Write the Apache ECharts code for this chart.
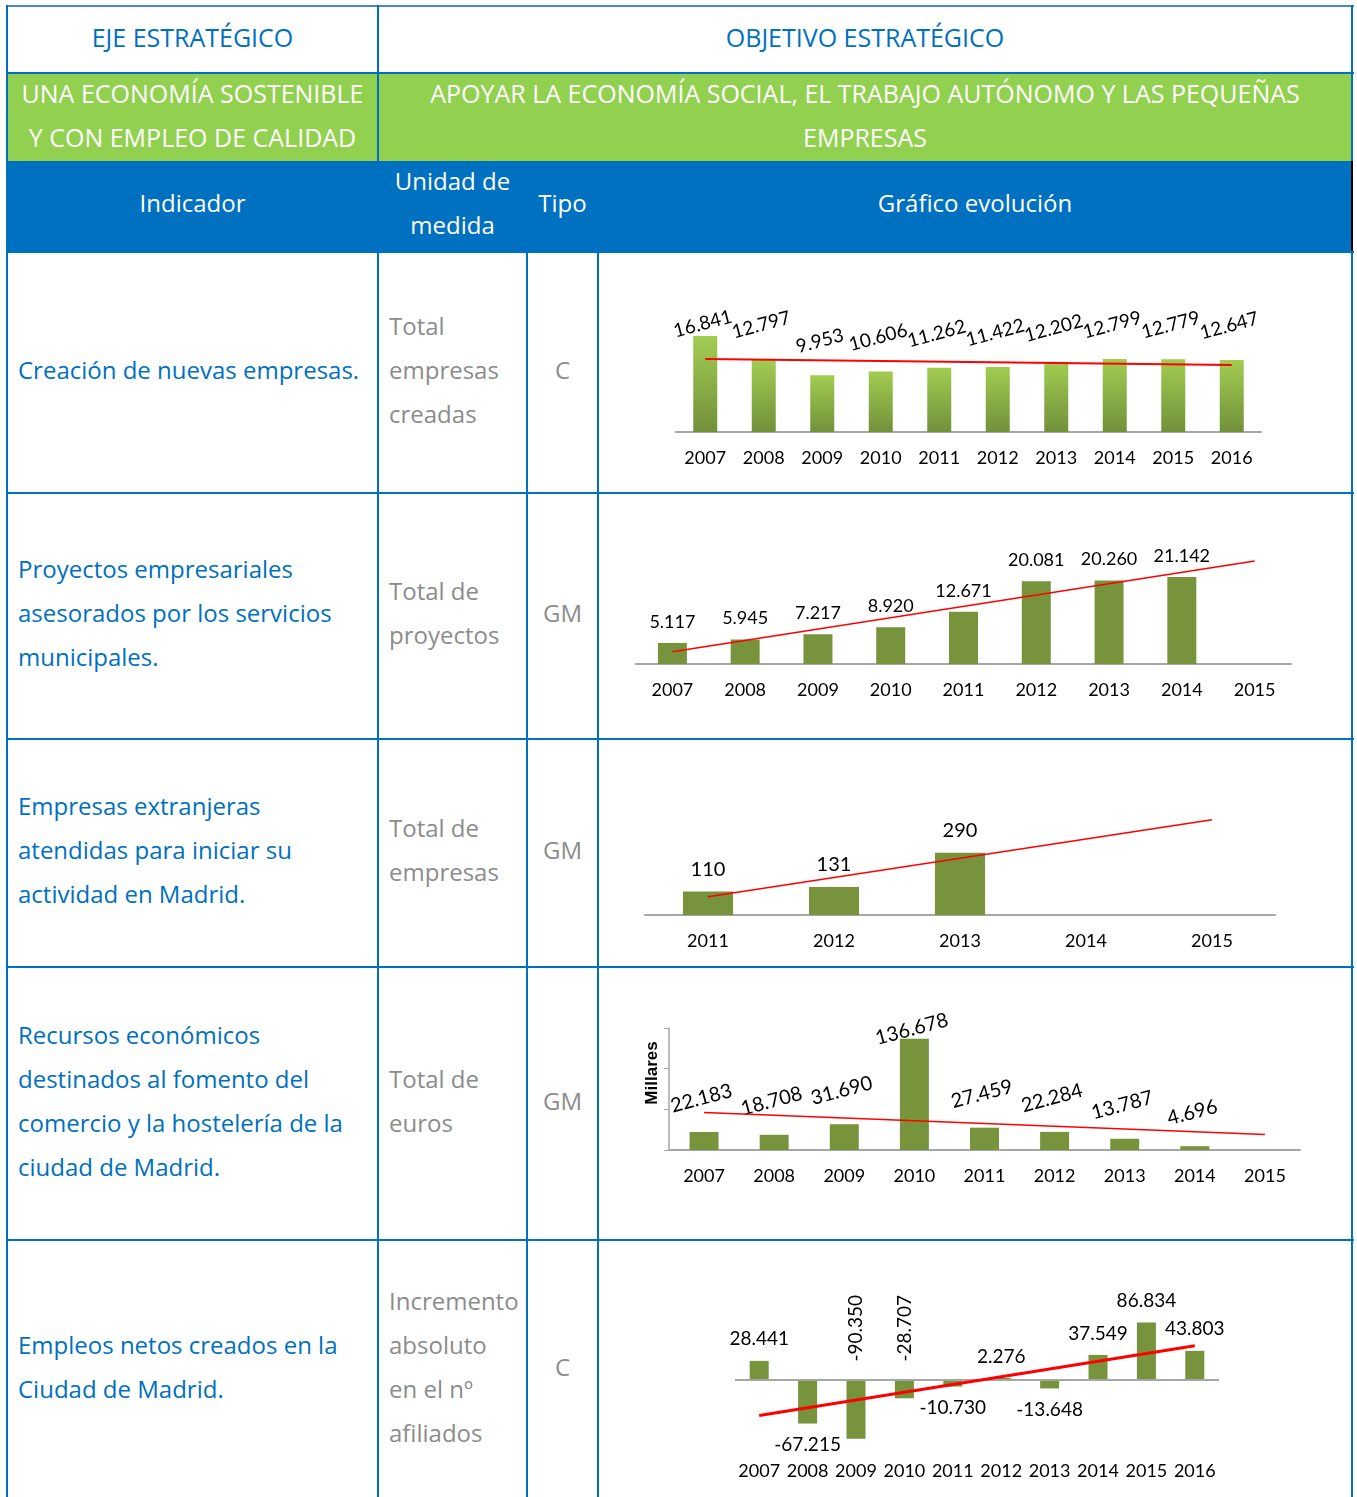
<!DOCTYPE html>
<html>
<head>
<meta charset="utf-8">
<title>Indicadores</title>
<script src="https://cdn.jsdelivr.net/npm/echarts@6/dist/echarts.min.js"></script>
<style>
body{margin:0;background:#fff;font-family:"Open Sans",sans-serif;}
#page{position:relative;width:1357px;height:1497px;overflow:hidden;}
.cell{position:absolute;display:flex;flex-direction:column;justify-content:center;line-height:44px;font-size:24px;box-sizing:border-box;padding-bottom:6px;}
.cap{font-size:25px;}
.c{align-items:center;text-align:center;}
.hl{position:absolute;height:2px;background:#0070c0;}
.vl{position:absolute;width:2px;background:#0070c0;}
.ind{color:#0070c0;padding-left:10px;}
.uni{color:#8c8c8c;padding-left:10px;}
.tipo{color:#8c8c8c;}
.chart{position:absolute;left:600px;width:751px;}
</style>
</head>
<body>
<div id="page">
  <!-- fondos de cabecera -->
  <div style="position:absolute;left:8px;top:74px;width:1344px;height:87px;background:#92d050"></div>
  <div style="position:absolute;left:8px;top:161px;width:1344px;height:91px;background:#0070c0"></div>
  <div style="position:absolute;left:1351px;top:161px;width:2px;height:91px;background:#000"></div>

  <!-- lineas -->
  <div class="hl" style="left:6px;top:5px;width:1348px;background:#4a86c8"></div>
  <div class="hl" style="left:6px;top:72px;width:1348px"></div>
  <div class="hl" style="left:6px;top:251px;width:1348px"></div>
  <div class="hl" style="left:6px;top:492px;width:1348px"></div>
  <div class="hl" style="left:6px;top:738px;width:1348px"></div>
  <div class="hl" style="left:6px;top:966px;width:1348px"></div>
  <div class="hl" style="left:6px;top:1239px;width:1348px"></div>
  <div class="vl" style="left:6px;top:5px;height:1492px"></div>
  <div class="vl" style="left:377px;top:5px;height:156px"></div>
  <div class="vl" style="left:377px;top:251px;height:1246px"></div>
  <div class="vl" style="left:526px;top:251px;height:1246px"></div>
  <div class="vl" style="left:597px;top:251px;height:1246px"></div>
  <div class="vl" style="left:1351px;top:5px;height:156px"></div>
  <div class="vl" style="left:1351px;top:252px;height:1245px"></div>

  <!-- cabecera -->
  <div class="cell c cap" style="left:8px;top:7px;width:369px;height:65px;color:#0070c0">EJE ESTRATÉGICO</div>
  <div class="cell c cap" style="left:379px;top:7px;width:972px;height:65px;color:#0070c0">OBJETIVO ESTRATÉGICO</div>
  <div class="cell c cap" style="left:8px;top:74px;width:369px;height:87px;color:#fff">UNA ECONOMÍA SOSTENIBLE<br>Y CON EMPLEO DE CALIDAD</div>
  <div class="cell c cap" style="left:379px;top:74px;width:972px;height:87px;color:#fff">APOYAR LA ECONOMÍA SOCIAL, EL TRABAJO AUTÓNOMO Y LAS PEQUEÑAS<br>EMPRESAS</div>
  <div class="cell c" style="left:8px;top:161px;width:369px;height:90px;color:#fff">Indicador</div>
  <div class="cell c" style="left:379px;top:161px;width:147px;height:90px;color:#fff">Unidad de<br>medida</div>
  <div class="cell c" style="left:528px;top:161px;width:69px;height:90px;color:#fff">Tipo</div>
  <div class="cell c" style="left:599px;top:161px;width:752px;height:90px;color:#fff">Gráfico evolución</div>

  <!-- fila 1 -->
  <div class="cell ind" style="left:8px;top:253px;width:369px;height:239px">Creación de nuevas empresas.</div>
  <div class="cell uni" style="left:379px;top:253px;width:147px;height:239px">Total<br>empresas<br>creadas</div>
  <div class="cell c tipo" style="left:528px;top:253px;width:69px;height:239px">C</div>
  <div class="chart" id="chart01" style="top:253px;height:239px"></div>

  <!-- fila 2 -->
  <div class="cell ind" style="left:8px;top:494px;width:369px;height:244px">Proyectos empresariales<br>asesorados por los servicios<br>municipales.</div>
  <div class="cell uni" style="left:379px;top:494px;width:147px;height:244px">Total de<br>proyectos</div>
  <div class="cell c tipo" style="left:528px;top:494px;width:69px;height:244px">GM</div>
  <div class="chart" id="chart02" style="top:494px;height:244px"></div>

  <!-- fila 3 -->
  <div class="cell ind" style="left:8px;top:740px;width:369px;height:226px">Empresas extranjeras<br>atendidas para iniciar su<br>actividad en Madrid.</div>
  <div class="cell uni" style="left:379px;top:740px;width:147px;height:226px">Total de<br>empresas</div>
  <div class="cell c tipo" style="left:528px;top:740px;width:69px;height:226px">GM</div>
  <div class="chart" id="chart03" style="top:740px;height:226px"></div>

  <!-- fila 4 -->
  <div class="cell ind" style="left:8px;top:968px;width:369px;height:271px">Recursos económicos<br>destinados al fomento del<br>comercio y la hostelería de la<br>ciudad de Madrid.</div>
  <div class="cell uni" style="left:379px;top:968px;width:147px;height:271px">Total de<br>euros</div>
  <div class="cell c tipo" style="left:528px;top:968px;width:69px;height:271px">GM</div>
  <div class="chart" id="chart04" style="top:968px;height:271px"></div>

  <!-- fila 5 -->
  <div class="cell ind" style="left:8px;top:1241px;width:369px;height:258px">Empleos netos creados en la<br>Ciudad de Madrid.</div>
  <div class="cell uni" style="left:379px;top:1241px;width:147px;height:258px">Incremento<br>absoluto<br>en el nº<br>afiliados</div>
  <div class="cell c tipo" style="left:528px;top:1241px;width:69px;height:258px">C</div>
  <div class="chart" id="chart05" style="top:1241px;height:256px"></div>
</div>

<script>
// datos de los indicadores
var anosCreacion = ['2007', '2008', '2009', '2010', '2011', '2012', '2013', '2014', '2015', '2016'];
var creacionEmpresas = [16841, 12797, 9953, 10606, 11262, 11422, 12202, 12799, 12779, 12647];
var creacionTendencia = [12800, 11750];

var anosProyectos = ['2007', '2008', '2009', '2010', '2011', '2012', '2013', '2014', '2015'];
var proyectosAsesorados = [5117, 5945, 7217, 8920, 12671, 20081, 20260, 21142];
var proyectosTendencia = [3000, 25000];

var anosExtranjeras = ['2011', '2012', '2013', '2014', '2015'];
var empresasExtranjeras = [110, 131, 290];
var extranjerasTendencia = [85, 445];

var anosRecursos = ['2007', '2008', '2009', '2010', '2011', '2012', '2013', '2014', '2015'];
var recursosComercio = [22183, 18708, 31690, 136678, 27459, 22284, 13787, 4696];
var recursosTendencia = [46000, 19000];

var anosEmpleo = ['2007', '2008', '2009', '2010', '2011', '2012', '2013', '2014', '2015', '2016'];
var empleosNetos = [28441, -67215, -90350, -28707, -10730, 2276, -13648, 37549, 86834, 43803];
var empleoTendencia = [-55000, 51500];

var fuente = 'Lato, "Open Sans", sans-serif';
var verde = '#77933c';

function fmt(v) {
    var s = String(Math.abs(v)).replace(/\B(?=(\d{3})+(?!\d))/g, '.');
    return v < 0 ? '-' + s : s;
}

// recta de tendencia: del primer al ultimo año del eje
function tendencia(anos, t, ancho) {
    return {
        type: 'line',
        data: [[anos[0], t[0]], [anos[anos.length - 1], t[1]]],
        symbol: 'none',
        silent: true,
        clip: false,
        z: 5,
        lineStyle: { color: '#ff0000', width: ancho }
    };
}

function ejeX(anos, conLinea) {
    return {
        type: 'category',
        data: anos,
        axisLine: { show: conLinea, onZero: false, lineStyle: { color: '#a6a6a6', width: 2 } },
        axisTick: { show: false },
        axisLabel: { color: '#000', fontSize: 18, margin: 17, fontFamily: fuente, interval: 0 }
    };
}

// la etiqueta de la barra mas alta va pegada a la barra
function pegarMaximo(valores, dist) {
    var max = Math.max.apply(null, valores);
    return valores.map(function (v) {
        return v === max ? { value: v, label: { distance: dist } } : v;
    });
}

// 1. Creación de nuevas empresas
var myChart01 = echarts.init(document.getElementById('chart01'));
myChart01.setOption({
    animation: false,
    grid: { left: 76, width: 585, top: 65, height: 114 },
    xAxis: ejeX(anosCreacion, true),
    yAxis: { type: 'value', min: 0, max: 20000, show: false },
    series: [
        {
            type: 'bar',
            data: pegarMaximo(creacionEmpresas, 3),
            barWidth: 24,
            itemStyle: {
                color: new echarts.graphic.LinearGradient(0, 0, 0, 1, [
                    { offset: 0, color: '#a2cc52' },
                    { offset: 1, color: '#71913a' }
                ])
            },
            label: {
                show: true, position: 'top', distance: 25, rotate: 15,
                color: '#000', fontSize: 19, fontFamily: fuente,
                formatter: function (p) { return fmt(p.value); }
            }
        },
        tendencia(anosCreacion, creacionTendencia, 2)
    ]
});

// 2. Proyectos empresariales asesorados
var myChart02 = echarts.init(document.getElementById('chart02'));
myChart02.setOption({
    animation: false,
    grid: { left: 36, width: 655, top: 67, height: 103 },
    xAxis: ejeX(anosProyectos, true),
    yAxis: { type: 'value', min: 0, max: 25000, show: false },
    series: [
        {
            type: 'bar',
            data: proyectosAsesorados,
            barWidth: 29,
            itemStyle: { color: verde },
            label: {
                show: true, position: 'top', distance: 12,
                color: '#000', fontSize: 18, fontFamily: fuente,
                formatter: function (p) { return fmt(p.value); }
            }
        },
        tendencia(anosProyectos, proyectosTendencia, 1.5)
    ]
});

// 3. Empresas extranjeras atendidas
var myChart03 = echarts.init(document.getElementById('chart03'));
myChart03.setOption({
    animation: false,
    grid: { left: 45, width: 630, top: 100, height: 75 },
    xAxis: ejeX(anosExtranjeras, true),
    yAxis: { type: 'value', min: 0, max: 350, show: false },
    series: [
        {
            type: 'bar',
            data: empresasExtranjeras,
            barWidth: 50,
            itemStyle: { color: verde },
            label: {
                show: true, position: 'top', distance: 12,
                color: '#000', fontSize: 20, fontFamily: fuente,
                formatter: function (p) { return fmt(p.value); }
            }
        },
        tendencia(anosExtranjeras, extranjerasTendencia, 1.5)
    ]
});

// 4. Recursos económicos comercio y hostelería
var myChart04 = echarts.init(document.getElementById('chart04'));
myChart04.setOption({
    animation: false,
    grid: { left: 69, width: 631, top: 60, height: 122 },
    xAxis: ejeX(anosRecursos, true),
    yAxis: {
        type: 'value', min: 0, max: 150000, interval: 50000,
        name: 'Millares', nameLocation: 'middle', nameRotate: 90, nameGap: 8,
        nameTextStyle: {
            color: '#000', fontWeight: 'bold', fontSize: 17,
            fontFamily: '"Liberation Sans", Arial, sans-serif',
            padding: [0, 0, 0, 32]
        },
        axisLine: { show: true, lineStyle: { color: '#a6a6a6', width: 1.5 } },
        axisTick: { show: true, length: 5, lineStyle: { color: '#a6a6a6' } },
        axisLabel: { show: false },
        splitLine: { show: false }
    },
    series: [
        {
            type: 'bar',
            data: pegarMaximo(recursosComercio, 0),
            barWidth: 29,
            itemStyle: { color: verde },
            label: {
                show: true, position: 'top', distance: 24, rotate: 15,
                color: '#000', fontSize: 20, fontFamily: fuente,
                formatter: function (p) { return fmt(p.value); }
            }
        },
        tendencia(anosRecursos, recursosTendencia, 1.5)
    ]
});

// 5. Empleos netos creados
var etiquetasVerticales = ['2009', '2010'];
var myChart05 = echarts.init(document.getElementById('chart05'));
myChart05.setOption({
    animation: false,
    grid: { left: 135, width: 484, top: 73, height: 131 },
    xAxis: ejeX(anosEmpleo, false),
    yAxis: { type: 'value', min: -100000, max: 100000, show: false },
    series: [
        {
            type: 'bar',
            data: empleosNetos.map(function (v, i) {
                var lab;
                if (etiquetasVerticales.indexOf(anosEmpleo[i]) >= 0) {
                    lab = { position: 'top', rotate: 90, align: 'left', verticalAlign: 'middle', distance: 18 };
                } else {
                    lab = { position: v < 0 ? 'bottom' : 'top' };
                }
                return { value: v, label: lab };
            }),
            barWidth: 19,
            itemStyle: { color: verde },
            label: {
                show: true, distance: 12,
                color: '#000', fontSize: 19, fontFamily: fuente,
                formatter: function (p) { return fmt(p.value); }
            },
            markLine: {
                silent: true, symbol: 'none', label: { show: false },
                lineStyle: { color: '#a6a6a6', width: 2, type: 'solid' },
                data: [{ yAxis: 0 }]
            }
        },
        tendencia(anosEmpleo, empleoTendencia, 3)
    ]
});
</script>
</body>
</html>
